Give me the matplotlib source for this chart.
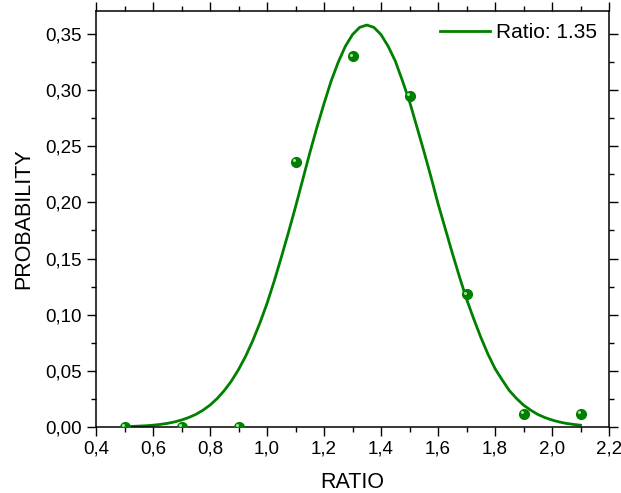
import numpy as np
import matplotlib
matplotlib.use("Agg")
import matplotlib.pyplot as plt
from matplotlib.ticker import MultipleLocator, FuncFormatter
from matplotlib.transforms import ScaledTranslation

plt.rcParams['font.family'] = ['Liberation Sans', 'DejaVu Sans']

# measured points
ratio = np.array([0.5, 0.7, 0.9, 1.1, 1.3, 1.5, 1.7, 1.9, 2.1])
prob = np.array([0.0, 0.0, 0.0, 0.236, 0.330, 0.295, 0.118, 0.012, 0.012])

# fitted curve
fit_x = np.array([0.500, 0.525, 0.550, 0.575, 0.600, 0.625, 0.650, 0.675, 0.700, 0.725,
                  0.750, 0.775, 0.800, 0.825, 0.850, 0.875, 0.900, 0.925, 0.950, 0.975,
                  1.000, 1.025, 1.050, 1.075, 1.100, 1.125, 1.150, 1.175, 1.200, 1.225,
                  1.250, 1.275, 1.300, 1.325, 1.350, 1.375, 1.400, 1.425, 1.450, 1.475,
                  1.500, 1.525, 1.550, 1.575, 1.600, 1.625, 1.650, 1.675, 1.700, 1.725,
                  1.750, 1.775, 1.800, 1.825, 1.850, 1.875, 1.900, 1.925, 1.950, 1.975,
                  2.000, 2.025, 2.050, 2.075, 2.100])
fit_y = np.array([0.0003, 0.0005, 0.0008, 0.0011, 0.0016, 0.0023, 0.0032, 0.0045, 0.0062, 0.0084,
                  0.0112, 0.0149, 0.0195, 0.0253, 0.0324, 0.0409, 0.0511, 0.0630, 0.0769, 0.0926,
                  0.1100, 0.1297, 0.1510, 0.1731, 0.1960, 0.2200, 0.2440, 0.2667, 0.2880, 0.3081,
                  0.3250, 0.3391, 0.3495, 0.3559, 0.3580, 0.3559, 0.3495, 0.3391, 0.3260, 0.3085,
                  0.2900, 0.2680, 0.2460, 0.2230, 0.1990, 0.1770, 0.1550, 0.1340, 0.1140, 0.0965,
                  0.0800, 0.0650, 0.0520, 0.0420, 0.0325, 0.0255, 0.0195, 0.0150, 0.0112, 0.0084,
                  0.0062, 0.0045, 0.0032, 0.0023, 0.0016])
legend_label = "Ratio: 1.35"

green = '#008000'

fig = plt.figure(figsize=(6.21, 4.93), dpi=100)
ax = fig.add_axes([0.1546, 0.1339, 0.8261, 0.8438])

ax.plot(fit_x, fit_y, color=green, lw=2.0, label=legend_label, zorder=2,
        solid_joinstyle='round')
ax.plot(ratio, prob, 'o', color=green, ms=7, mec=green, zorder=3)
# little highlight on each ball
shift = ScaledTranslation(-1.2 / 72, 1.2 / 72, fig.dpi_scale_trans)
ax.plot(ratio, prob, 'o', color='#a8dca8', ms=2.2, mec='none', zorder=4,
        transform=ax.transData + shift)

ax.set_xlim(0.4, 2.2)
ax.set_ylim(0, 0.3705)

ax.xaxis.set_major_locator(MultipleLocator(0.2))
ax.xaxis.set_minor_locator(MultipleLocator(0.1))
ax.yaxis.set_major_locator(MultipleLocator(0.05))
ax.yaxis.set_minor_locator(MultipleLocator(0.025))
ax.xaxis.set_major_formatter(FuncFormatter(lambda v, p: f"{v:.1f}".replace('.', ',')))
ax.yaxis.set_major_formatter(FuncFormatter(lambda v, p: f"{v:.2f}".replace('.', ',')))

ax.tick_params(which='both', direction='out', top=True, right=True, width=1.0,
               labelsize=13.5, colors='black')
ax.tick_params(which='major', length=6.5)
ax.tick_params(which='minor', length=3.5)
for s in ax.spines.values():
    s.set_linewidth(1.1)

ax.set_xlabel("RATIO", fontsize=15.5, labelpad=10)
ax.set_ylabel("PROBABILITY", fontsize=15.5, labelpad=8)

ax.legend(loc='upper right', frameon=False, fontsize=15, handlelength=2.4,
          handletextpad=0.25, borderaxespad=0.2)

fig.savefig("out.png", dpi=100)
